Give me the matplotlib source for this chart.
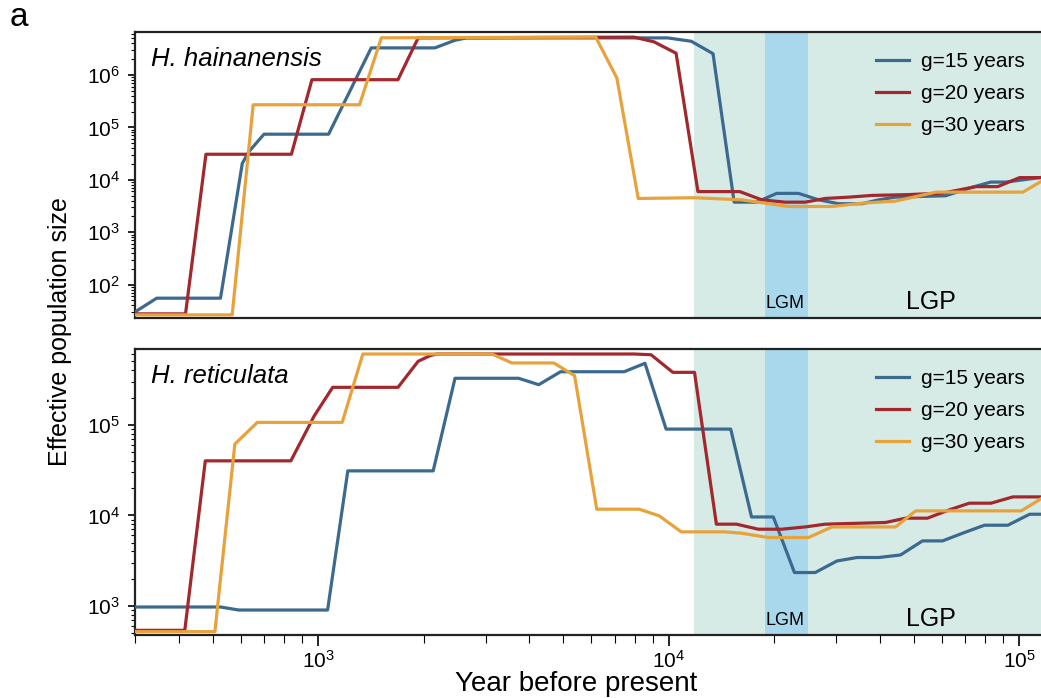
import numpy as np
import matplotlib
matplotlib.use("Agg")
import matplotlib.pyplot as plt

plt.rcParams['font.family'] = ['Liberation Sans', 'DejaVu Sans']

# ---- data: H. hainanensis (top panel) ----
hai_g15_x = [300, 346, 526, 607, 634, 700, 1070, 1416, 2151, 2455, 2650, 9934, 11590, 13370, 15360,
             17800, 20310, 23440, 26730, 30520, 35610, 39760, 44280, 61600, 73620, 82880, 91540, 117700]
hai_g15_y = [30, 55, 55, 20600, 34500, 74100, 74100, 3.29e6, 3.29e6, 4.6e6, 5.1e6, 5.1e6, 4.4e6, 2.55e6, 3740,
             3740, 5500, 5500, 4150, 3490, 3490, 4150, 4660, 4950, 7240, 9040, 9040, 11270]

hai_g20_x = [300, 418, 478, 838, 959, 1688, 1927, 7954, 9074, 10490, 12110, 15940, 18400, 21460,
             24490, 27950, 32620, 38020, 47400, 60390, 75220, 86820, 100200, 117700]
hai_g20_y = [27.6, 27.6, 30700, 30700, 813000, 813000, 5.1e6, 5.28e6, 4.29e6, 2.6e6, 5950, 5950, 4150, 3740,
             3740, 4400, 4660, 5030, 5190, 5560, 7400, 7400, 11000, 11000]

hai_g30_x = [300, 568, 652, 1311, 1513, 6186, 7108, 8180, 11840, 16120, 21940, 29210, 35610, 44280,
             57780, 102400, 117700]
hai_g30_y = [26.4, 26.4, 270000, 270000, 5.12e6, 5.28e6, 877000, 4400, 4540, 4150, 3090, 3090, 3580, 3910,
             5810, 5810, 10050]

# ---- data: H. reticulata (bottom panel) ----
ret_g15_x = [300, 526, 593, 1063, 1214, 2127, 2455, 3728, 4256, 4911, 7458, 8551, 9824, 15020, 17220,
             19870, 22830, 26160, 30180, 34440, 39760, 45840, 52920, 60390, 69700, 79530, 92750, 107000, 117700]
ret_g15_y = [975, 975, 903, 903, 31000, 31000, 326000, 326000, 277000, 385000, 385000, 477000, 89600, 89600, 9610,
             9610, 2340, 2340, 3140, 3430, 3430, 3660, 5230, 5230, 6470, 7790, 7790, 10300, 10300]

ret_g20_x = [300, 416, 476, 835, 974, 1099, 1688, 1927, 2081, 2175, 7954, 8897, 10270, 11840, 13670, 15600,
             18000, 20990, 24490, 27950, 41530, 47400, 54700, 63100, 72000, 83070, 95850, 117700]
ret_g20_y = [539, 539, 40000, 40000, 125700, 259000, 259000, 502000, 578000, 604000, 604000, 593000, 379000, 379000,
             8000, 8000, 7040, 7040, 7460, 8000, 8350, 9320, 9320, 11500, 13640, 13640, 16000, 16000]

ret_g30_x = [300, 507, 578, 670, 1170, 1340, 3129, 3569, 4698, 5386, 6229, 8236, 9398, 10850, 14440, 16120,
             19230, 25040, 29210, 44360, 50620, 101300, 117700]
ret_g30_y = [521, 521, 61200, 106300, 106300, 604000, 604000, 481000, 481000, 348000, 11710, 11710, 9870, 6580,
             6580, 6360, 5700, 5700, 7460, 7460, 11220, 11220, 16000]

labels = ['g=15 years', 'g=20 years', 'g=30 years']
colors = ['#3c6a8e', '#a3282d', '#e8a23c']

lgp_start, x_end = 11800, 117700
lgm_start, lgm_end = 18800, 25000

fig = plt.figure(figsize=(10.41, 6.98), dpi=100)
ax1 = fig.add_axes([0.1297, 0.5444, 0.8733, 0.4097])
ax2 = fig.add_axes([0.1297, 0.0903, 0.8733, 0.4097], sharex=ax1)

panels = [
    (ax1, 'H. hainanensis', [(hai_g15_x, hai_g15_y), (hai_g20_x, hai_g20_y), (hai_g30_x, hai_g30_y)], (23, 6.6e6)),
    (ax2, 'H. reticulata', [(ret_g15_x, ret_g15_y), (ret_g20_x, ret_g20_y), (ret_g30_x, ret_g30_y)], (479, 6.86e5)),
]

for ax, name, series, ylim in panels:
    ax.set_xscale('log')
    ax.set_yscale('log')
    ax.axvspan(lgp_start, x_end * 2, color='#d6ebe6', lw=0, zorder=0)
    ax.axvspan(lgm_start, lgm_end, color='#a9d8ec', lw=0, zorder=1)
    for (xs, ys), c, lab in zip(series, colors, labels):
        ax.plot(xs, ys, color=c, lw=2.3, label=lab, zorder=3)
    ax.set_xlim(300, x_end)
    ax.set_ylim(*ylim)
    ax.text(0.018, 0.905, name, transform=ax.transAxes, fontsize=18.5, style='italic',
            va='center', ha='left')
    ax.text(0.715, 0.052, 'LGM', transform=ax.transAxes, fontsize=13, ha='center', va='center')
    ax.text(0.876, 0.055, 'LGP', transform=ax.transAxes, fontsize=18, ha='center', va='center')
    ax.legend(loc='upper right', bbox_to_anchor=(1.0, 0.995), frameon=False, fontsize=15,
              handlelength=1.6, handletextpad=0.6, labelspacing=0.62)
    for s in ax.spines.values():
        s.set_linewidth(1.6)
        s.set_color('#222222')
    ax.spines['right'].set_visible(False)
    ax.tick_params(axis='y', which='major', direction='out', length=5, width=1.2, labelsize=15, pad=6)
    ax.tick_params(axis='y', which='minor', direction='out', length=3, width=0.8)
    ax.yaxis.set_minor_locator(matplotlib.ticker.LogLocator(base=10, subs=np.arange(2, 10)))
    ax.yaxis.set_minor_formatter(matplotlib.ticker.NullFormatter())

ax1.tick_params(axis='x', which='both', bottom=False, labelbottom=False)
ax2.tick_params(axis='x', which='major', direction='out', length=8, width=1.2, labelsize=15, pad=3)
ax2.tick_params(axis='x', which='minor', direction='out', length=6, width=0.8)

fig.text(0.058, 0.525, 'Effective population size', rotation=90, fontsize=18, ha='center', va='center')
fig.text(0.553, 0.01, 'Year before present', fontsize=20, ha='center', va='baseline')
fig.text(0.009, 0.975, 'a', fontsize=24, ha='left', va='center')

fig.savefig('out.png', dpi=100)
